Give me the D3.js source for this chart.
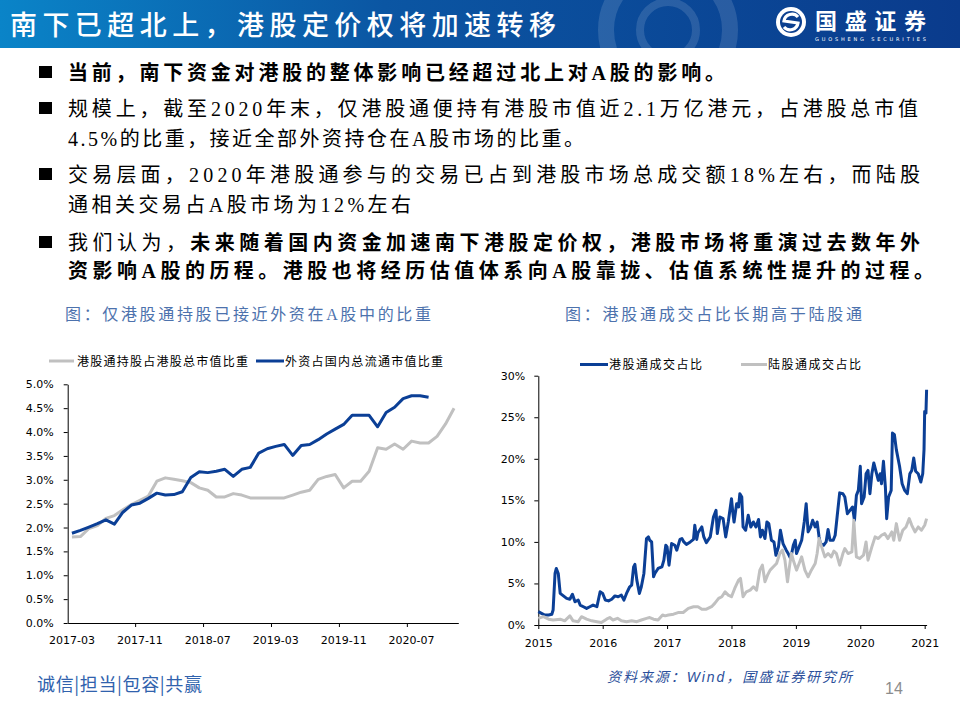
<!DOCTYPE html>
<html>
<head>
<meta charset="utf-8">
<script src="https://cdn.jsdelivr.net/npm/d3@7"></script>
<style>
  body { margin: 0; background: #fff; }
  svg { display: block; }
  .axis .tick text { font-family: "DejaVu Sans", sans-serif; font-size: 11px; fill: #000; }
  .axis .domain, .axis .tick line { stroke: #000; stroke-width: 1; }
</style>
</head>
<body>
<svg id="page" width="960" height="720"></svg>
<script>
/* 港股通 slide: two line charts */

// ---- left chart data (monthly) ----
const months = [
  '2017-03','2017-04','2017-05','2017-06','2017-07','2017-08','2017-09','2017-10','2017-11','2017-12',
  '2018-01','2018-02','2018-03','2018-04','2018-05','2018-06','2018-07','2018-08','2018-09','2018-10',
  '2018-11','2018-12','2019-01','2019-02','2019-03','2019-04','2019-05','2019-06','2019-07','2019-08',
  '2019-09','2019-10','2019-11','2019-12','2020-01','2020-02','2020-03','2020-04','2020-05','2020-06',
  '2020-07','2020-08','2020-09','2020-10','2020-11','2020-12'
];
const monthLabels = ['2017-03', '2017-11', '2018-07', '2019-03', '2019-11', '2020-07'];
// 港股通持股占港股总市值比重 (%)
const hkHoldShare = [
  1.80, 1.81, 1.98, 2.04, 2.19, 2.25, 2.37, 2.48, 2.57, 2.66,
  2.97, 3.04, 3.01, 2.98, 2.94, 2.83, 2.78, 2.64, 2.64, 2.71,
  2.68, 2.62, 2.62, 2.62, 2.62, 2.62, 2.68, 2.74, 2.78, 3.01,
  3.07, 3.11, 2.83, 2.97, 2.97, 3.18, 3.67, 3.64, 3.75, 3.64,
  3.81, 3.77, 3.77, 3.91, 4.17, 4.50
];
// 外资占国内总流通市值比重 (%), ends 2020-09
const foreignShare = [
  1.88, 1.94, 2.01, 2.08, 2.16, 2.07, 2.32, 2.47, 2.51, 2.61,
  2.72, 2.68, 2.69, 2.75, 3.05, 3.17, 3.15, 3.18, 3.22, 3.07,
  3.22, 3.26, 3.56, 3.65, 3.70, 3.74, 3.51, 3.72, 3.74, 3.84,
  3.96, 4.06, 4.16, 4.35, 4.35, 4.35, 4.11, 4.41, 4.52, 4.70,
  4.76, 4.76, 4.73
];

// ---- right chart data: [decimal year, %] ----
const years = [2015, 2016, 2017, 2018, 2019, 2020, 2021];
const southTurnover = [ // 港股通成交占比
  [2015.00,1.6],[2015.05,1.4],[2015.10,1.2],[2015.16,1.2],[2015.21,1.3],[2015.23,1.8],[2015.26,6.2],[2015.28,6.8],
  [2015.31,6.2],[2015.34,3.8],[2015.39,3.5],[2015.44,3.2],[2015.49,3.1],[2015.53,3.7],[2015.57,2.8],[2015.62,3.0],
  [2015.65,2.4],[2015.70,2.2],[2015.75,2.0],[2015.80,2.2],[2015.85,2.4],[2015.91,2.2],[2015.96,4.0],[2016.00,3.8],
  [2016.04,3.0],[2016.09,2.9],[2016.14,3.1],[2016.19,3.5],[2016.24,3.4],[2016.29,3.6],[2016.33,3.0],[2016.37,3.8],
  [2016.42,4.6],[2016.45,4.8],[2016.48,7.0],[2016.50,7.3],[2016.53,5.4],[2016.57,3.8],[2016.60,4.6],[2016.64,6.2],
  [2016.68,10.4],[2016.71,10.6],[2016.73,10.2],[2016.76,10.0],[2016.79,5.8],[2016.81,6.2],[2016.86,6.8],[2016.92,7.0],
  [2016.95,7.8],[2016.98,9.6],[2017.00,9.4],[2017.03,7.2],[2017.07,9.8],[2017.12,9.6],[2017.15,9.0],[2017.20,10.3],
  [2017.23,10.4],[2017.26,10.0],[2017.30,9.7],[2017.36,10.0],[2017.41,10.3],[2017.43,12.0],[2017.46,10.3],[2017.48,11.1],
  [2017.54,11.8],[2017.57,10.6],[2017.61,9.9],[2017.67,10.6],[2017.72,13.0],[2017.76,13.8],[2017.78,11.0],[2017.82,13.0],
  [2017.87,12.8],[2017.91,10.6],[2017.95,12.4],[2018.00,15.2],[2018.02,13.6],[2018.04,12.4],[2018.08,14.6],[2018.11,14.2],
  [2018.13,15.8],[2018.16,15.4],[2018.18,11.8],[2018.22,11.4],[2018.26,13.2],[2018.30,11.8],[2018.34,12.4],[2018.38,11.8],
  [2018.42,12.7],[2018.45,10.6],[2018.48,11.4],[2018.52,10.4],[2018.55,12.4],[2018.58,12.2],[2018.62,10.2],[2018.66,10.0],
  [2018.69,8.4],[2018.73,9.4],[2018.76,11.4],[2018.80,9.8],[2018.85,9.0],[2018.88,8.6],[2018.92,8.0],[2018.96,9.6],
  [2018.99,10.2],[2019.01,8.6],[2019.05,9.4],[2019.09,10.2],[2019.13,12.4],[2019.16,14.6],[2019.19,11.2],[2019.23,11.8],
  [2019.26,12.6],[2019.30,11.8],[2019.33,12.4],[2019.36,10.6],[2019.38,9.8],[2019.43,9.6],[2019.47,10.0],[2019.50,11.5],
  [2019.53,10.2],[2019.58,10.2],[2019.61,10.8],[2019.64,13.0],[2019.68,15.9],[2019.73,15.8],[2019.76,15.4],[2019.80,13.4],
  [2019.84,13.8],[2019.88,14.2],[2019.91,12.6],[2019.94,15.6],[2019.97,16.2],[2020.00,19.1],[2020.02,14.6],[2020.06,15.4],
  [2020.09,18.2],[2020.12,18.6],[2020.15,15.8],[2020.18,18.2],[2020.21,19.5],[2020.24,18.6],[2020.28,17.4],[2020.31,18.2],
  [2020.33,17.0],[2020.36,19.7],[2020.39,16.6],[2020.41,12.8],[2020.44,15.4],[2020.48,16.2],[2020.50,23.1],[2020.53,22.9],
  [2020.56,21.1],[2020.61,19.1],[2020.65,17.0],[2020.69,16.2],[2020.73,15.8],[2020.77,18.2],[2020.80,18.6],[2020.83,20.1],
  [2020.86,18.5],[2020.90,18.2],[2020.94,17.2],[2020.97,18.2],[2020.99,21.1],[2021.00,25.7],[2021.02,25.5],[2021.03,28.3]
];
const northTurnover = [ // 陆股通成交占比
  [2015.00,0.8],[2015.08,1.0],[2015.16,0.7],[2015.23,0.6],[2015.34,0.7],[2015.41,0.5],[2015.49,1.1],[2015.54,0.5],
  [2015.62,0.4],[2015.67,1.0],[2015.75,0.7],[2015.83,0.5],[2015.91,0.4],[2015.98,0.3],[2016.06,0.7],[2016.11,0.9],
  [2016.16,0.6],[2016.23,0.8],[2016.29,0.5],[2016.37,0.4],[2016.45,0.5],[2016.53,0.4],[2016.60,0.6],[2016.68,0.8],
  [2016.73,0.9],[2016.79,0.7],[2016.86,0.6],[2016.93,1.2],[2016.97,1.1],[2017.02,1.2],[2017.10,1.3],[2017.17,1.5],
  [2017.25,1.5],[2017.33,2.0],[2017.41,2.2],[2017.48,2.2],[2017.54,1.9],[2017.61,1.9],[2017.69,2.2],[2017.74,2.6],
  [2017.80,3.2],[2017.85,3.4],[2017.90,4.0],[2017.95,3.6],[2018.00,3.4],[2018.05,4.4],[2018.11,5.4],[2018.14,5.6],
  [2018.18,3.4],[2018.23,4.0],[2018.29,4.2],[2018.34,4.6],[2018.39,4.2],[2018.44,6.6],[2018.48,7.2],[2018.52,5.2],
  [2018.56,6.0],[2018.60,6.6],[2018.65,7.0],[2018.70,7.4],[2018.75,8.6],[2018.79,9.0],[2018.83,7.8],[2018.87,5.2],
  [2018.90,7.0],[2018.93,8.6],[2018.96,7.8],[2019.01,6.6],[2019.05,7.4],[2019.09,8.2],[2019.14,6.6],[2019.19,5.8],
  [2019.24,6.6],[2019.30,7.4],[2019.33,8.6],[2019.36,10.4],[2019.40,9.4],[2019.45,8.2],[2019.50,8.6],[2019.55,8.2],
  [2019.59,8.9],[2019.63,8.6],[2019.68,7.2],[2019.73,8.6],[2019.76,9.2],[2019.81,8.6],[2019.87,8.8],[2019.90,12.6],
  [2019.92,10.2],[2019.94,8.2],[2019.99,8.0],[2020.05,8.4],[2020.09,10.0],[2020.12,7.8],[2020.18,9.4],[2020.23,10.6],
  [2020.28,10.4],[2020.33,10.8],[2020.38,11.0],[2020.43,10.4],[2020.49,11.2],[2020.52,10.2],[2020.56,12.2],[2020.61,10.2],
  [2020.66,11.4],[2020.71,11.8],[2020.76,12.8],[2020.80,12.0],[2020.85,11.2],[2020.90,11.8],[2020.95,11.4],[2021.00,12.0],
  [2021.03,12.8]
];

const BLUE = '#0b3f96';
const GREY = '#c0c0c0';
const CJK = '"Noto Sans CJK SC", sans-serif';
const BODY = '"Liberation Serif", "Noto Sans CJK SC", serif';

const svg = d3.select('#page');

// spread a text element so it ends at x1
function fit(sel, x0, x1) {
  const node = sel.node();
  const n = node.getNumberOfChars();
  const w = node.getComputedTextLength();
  if (n > 1) sel.style('letter-spacing', ((x1 - x0 - w) / (n - 1)) + 'px');
  return sel;
}

// ---- header banner ----
const defs = svg.append('defs');
const grad = defs.append('linearGradient').attr('id', 'band');
grad.append('stop').attr('offset', '0%').attr('stop-color', '#0a84c8');
grad.append('stop').attr('offset', '40%').attr('stop-color', '#0b56a3');
grad.append('stop').attr('offset', '100%').attr('stop-color', '#0a3b8c');
defs.append('clipPath').attr('id', 'bandClip')
  .append('rect').attr('width', 960).attr('height', 48);

svg.append('rect').attr('width', 960).attr('height', 48).attr('fill', 'url(#band)');
const wm = svg.append('g').attr('clip-path', 'url(#bandClip)')
  .attr('fill', 'none').attr('stroke', '#fff').attr('stroke-opacity', 0.13);
wm.append('circle').attr('cx', 668).attr('cy', 30).attr('r', 62).attr('stroke-width', 16);
wm.append('circle').attr('cx', 668).attr('cy', 30).attr('r', 28).attr('stroke-width', 8);

fit(svg.append('text')
  .attr('x', 10).attr('y', 35)
  .attr('fill', '#fff')
  .style('font-family', CJK).style('font-size', '27px').style('font-weight', 500)
  .text('南下已超北上，港股定价权将加速转移'), 10, 556);

// logo
const logo = svg.append('g').attr('transform', 'translate(791,22)');
logo.append('circle').attr('r', 15).attr('fill', '#fff');
logo.append('circle').attr('r', 11).attr('fill', '#0b3f8f');
logo.append('path')
  .attr('d', 'M7,-5 A8,8 0 0 0 -7,-1 L7,1 A8,8 0 0 1 -7,5')
  .attr('fill', 'none').attr('stroke', '#fff').attr('stroke-width', 3.2);
fit(svg.append('text')
  .attr('x', 815).attr('y', 29)
  .attr('fill', '#fff')
  .style('font-family', CJK).style('font-size', '22px').style('font-weight', 700)
  .text('国盛证券'), 815, 926);
fit(svg.append('text')
  .attr('x', 815).attr('y', 41)
  .attr('fill', '#fff')
  .style('font-family', '"DejaVu Sans", sans-serif').style('font-size', '5px')
  .text('GUOSHENG SECURITIES'), 815, 926);

// ---- bullet text ----
const lines = [
  { y: 80,  x1: 725, mark: true,  parts: [[1, '当前，南下资金对港股的整体影响已经超过北上对A股的影响。']] },
  { y: 116, x1: 918, mark: true,  parts: [[0, '规模上，截至2020年末，仅港股通便持有港股市值近2.1万亿港元，占港股总市值']] },
  { y: 146, x1: 584, mark: false, parts: [[0, '4.5%的比重，接近全部外资持仓在A股市场的比重。']] },
  { y: 182, x1: 920, mark: true,  parts: [[0, '交易层面，2020年港股通参与的交易已占到港股市场总成交额18%左右，而陆股']] },
  { y: 212, x1: 411, mark: false, parts: [[0, '通相关交易占A股市场为12%左右']] },
  { y: 250, x1: 920, mark: true,  parts: [[0, '我们认为，'], [1, '未来随着国内资金加速南下港股定价权，港股市场将重演过去数年外']] },
  { y: 278, x1: 934, mark: false, parts: [[1, '资影响A股的历程。港股也将经历估值体系向A股靠拢、估值系统性提升的过程。']] },
];

lines.forEach(l => {
  if (l.mark) {
    svg.append('rect').attr('x', 39).attr('y', l.y - 14).attr('width', 13).attr('height', 12).attr('fill', '#000');
  }
  const t = svg.append('text')
    .attr('x', 68).attr('y', l.y)
    .attr('fill', '#000')
    .style('font-family', BODY).style('font-size', '20px');
  l.parts.forEach(([bold, s]) => {
    t.append('tspan').style('font-weight', bold ? 700 : 400).text(s);
  });
  fit(t, 68, l.x1);
});

// captions
fit(svg.append('text').attr('x', 65).attr('y', 320).attr('fill', '#4d72ad')
  .style('font-family', BODY).style('font-size', '16px')
  .text('图：仅港股通持股已接近外资在A股中的比重'), 65, 431);
fit(svg.append('text').attr('x', 565).attr('y', 320).attr('fill', '#4d72ad')
  .style('font-family', BODY).style('font-size', '16px')
  .text('图：港股通成交占比长期高于陆股通'), 565, 862);

// ---- left chart ----
const xL = d3.scaleBand().domain(months).range([67.7, 458.3]);
const yL = d3.scaleLinear().domain([0, 5]).range([623, 384.3]);

svg.append('g').attr('class', 'axis')
  .attr('transform', 'translate(67.7,0)')
  .call(d3.axisLeft(yL).tickValues(d3.range(0, 11).map(i => i * 0.5))
    .tickFormat(d => d.toFixed(1) + '%').tickSize(4).tickSizeOuter(0).tickPadding(10));

svg.append('g').attr('class', 'axis')
  .attr('transform', 'translate(0,623)')
  .call(d3.axisBottom(xL).tickValues(monthLabels).tickSize(0).tickSizeOuter(0).tickPadding(13));
svg.append('g').selectAll('line')
  .data(monthLabels.slice(1))
  .join('line')
  .attr('x1', d => xL(d)).attr('x2', d => xL(d))
  .attr('y1', 623).attr('y2', 627)
  .attr('stroke', '#000');

const lineL = d3.line()
  .x((d, i) => xL(months[i]) + xL.bandwidth() / 2)
  .y(d => yL(d));
svg.append('path').datum(hkHoldShare)
  .attr('d', lineL).attr('fill', 'none')
  .attr('stroke', GREY).attr('stroke-width', 3).attr('stroke-linejoin', 'round');
svg.append('path').datum(foreignShare)
  .attr('d', lineL).attr('fill', 'none')
  .attr('stroke', BLUE).attr('stroke-width', 3).attr('stroke-linejoin', 'round');

// left legend
svg.append('line').attr('x1', 49).attr('x2', 74).attr('y1', 361).attr('y2', 361)
  .attr('stroke', GREY).attr('stroke-width', 3);
fit(svg.append('text').attr('x', 77).attr('y', 365.5)
  .style('font-family', CJK).style('font-size', '12px')
  .text('港股通持股占港股总市值比重'), 77, 248);
svg.append('line').attr('x1', 256).attr('x2', 284).attr('y1', 361).attr('y2', 361)
  .attr('stroke', BLUE).attr('stroke-width', 3);
fit(svg.append('text').attr('x', 285).attr('y', 365.5)
  .style('font-family', CJK).style('font-size', '12px')
  .text('外资占国内总流通市值比重'), 285, 443);

// ---- right chart ----
const xR = d3.scaleLinear().domain([2015, 2021.03]).range([538.3, 926.6]);
const yR = d3.scaleLinear().domain([0, 30]).range([625, 375.7]);

svg.append('g').attr('class', 'axis')
  .attr('transform', 'translate(538.3,0)')
  .call(d3.axisLeft(yR).tickValues(d3.range(0, 31, 5))
    .tickFormat(d => d + '%').tickSize(4).tickSizeOuter(0).tickPadding(9));
svg.append('g').attr('class', 'axis')
  .attr('transform', 'translate(0,625)')
  .call(d3.axisBottom(xR).tickValues(years).tickFormat(d3.format('d'))
    .tickSize(4).tickSizeOuter(0).tickPadding(10));

const lineR = d3.line().x(d => xR(d[0])).y(d => yR(d[1]));
svg.append('path').datum(southTurnover)
  .attr('d', lineR).attr('fill', 'none')
  .attr('stroke', BLUE).attr('stroke-width', 3).attr('stroke-linejoin', 'round');
svg.append('path').datum(northTurnover)
  .attr('d', lineR).attr('fill', 'none')
  .attr('stroke', GREY).attr('stroke-width', 3).attr('stroke-linejoin', 'round');

// right legend
svg.append('line').attr('x1', 580).attr('x2', 608).attr('y1', 364.5).attr('y2', 364.5)
  .attr('stroke', BLUE).attr('stroke-width', 3);
fit(svg.append('text').attr('x', 609).attr('y', 369)
  .style('font-family', CJK).style('font-size', '12px')
  .text('港股通成交占比'), 609, 702);
svg.append('line').attr('x1', 741).attr('x2', 767).attr('y1', 364.5).attr('y2', 364.5)
  .attr('stroke', GREY).attr('stroke-width', 3);
fit(svg.append('text').attr('x', 768).attr('y', 369)
  .style('font-family', CJK).style('font-size', '12px')
  .text('陆股通成交占比'), 768, 861);

// ---- footer ----
fit(svg.append('text').attr('x', 37).attr('y', 691).attr('fill', '#3062ad')
  .style('font-family', CJK).style('font-size', '18px')
  .text('诚信|担当|包容|共赢'), 37, 202);
fit(svg.append('text').attr('x', 607).attr('y', 682).attr('fill', '#2b4f9b')
  .style('font-family', '"Liberation Sans", "Noto Sans CJK SC", sans-serif')
  .style('font-size', '14px').style('font-style', 'italic')
  .text('资料来源：Wind，国盛证券研究所'), 607, 852);
svg.append('text').attr('x', 885).attr('y', 694).attr('fill', '#8c8c8c')
  .style('font-family', '"Liberation Sans", sans-serif').style('font-size', '16px')
  .text('14');
</script>
</body>
</html>
